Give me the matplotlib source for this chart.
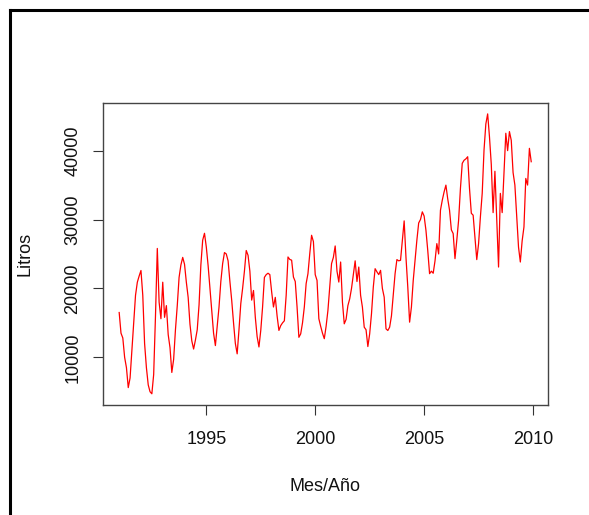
import numpy as np
import matplotlib.pyplot as plt
from matplotlib.lines import Line2D

plt.rcParams['font.family'] = ['Liberation Sans', 'DejaVu Sans']

# Serie mensual (litros), enero 1991 - diciembre 2009, un año por fila
inicio = 1991
litros = [
    16500, 13500, 12800, 10000,  8500,  5600,  7000, 11000, 15000, 19000, 20900, 21800,  # 1991
    22600, 19000, 12000,  8500,  6000,  5000,  4700,  7500, 16000, 25800, 18000, 15600,  # 1992
    20900, 15800, 17500, 13300, 11400,  7800,  9700, 14000, 17500, 21600, 23400, 24500,  # 1993
    23500, 20900, 18700, 14800, 12400, 11200, 12500, 14000, 17600, 23400, 27000, 28000,  # 1994
    26000, 23300, 20000, 16800, 13500, 11700, 14500, 17300, 21000, 23600, 25200, 25000,  # 1995
    24000, 21000, 18250, 15000, 12000, 10500, 14000, 17800, 20000, 22500, 25500, 24800,  # 1996
    22500, 18300, 19700, 15800, 13000, 11500, 13900, 17300, 21600, 22000, 22200, 22000,  # 1997
    19500, 17300, 18700, 16000, 13900, 14600, 15000, 15300, 19000, 24560, 24200, 24100,  # 1998
    21650, 21000, 17300, 12900, 13400, 15000, 17300, 20700, 22140, 25050, 27710, 26800,  # 1999
    22000, 21160, 15600, 14500, 13500, 12700, 14500, 16800, 20200, 23600, 24500, 26160,  # 2000
    22500, 20920, 23830, 18000, 14860, 15500, 17500, 18490, 20000, 22000, 24000, 21000,  # 2001
    23100, 19000, 17280, 14370, 14000, 11560, 13400, 16310, 20200, 22860, 22400, 22000,  # 2002
    22620, 20000, 18730, 14130, 13890, 14370, 16000, 19000, 22140, 24180, 24000, 24080,  # 2003
    27000, 29800, 24500, 20190, 15100, 17300, 21160, 24000, 26990, 29500, 30000, 31110,  # 2004
    30500, 28440, 25500, 22140, 22500, 22200, 24000, 26500, 25000, 31350, 32800, 34000,  # 2005
    34990, 33000, 31350, 28500, 27960, 24320, 27000, 29900, 34500, 38150, 38600, 38800,  # 2006
    39110, 34510, 30900, 30630, 27500, 24180, 26500, 30380, 33800, 40090, 43870, 45330,  # 2007
    42000, 38000, 31000, 37000, 30000, 23100, 33790, 31000, 36820, 42520, 40000, 42760,  # 2008
    41500, 36820, 35000, 30380, 26000, 23830, 26900, 28920, 35960, 35000, 40330, 38390,  # 2009
]
x_ticks = [1995, 2000, 2005, 2010]
y_ticks = [10000, 20000, 30000, 40000]

tiempo = inicio + np.arange(len(litros)) / 12

fig = plt.figure(figsize=(5.89, 5.15), dpi=100)
ax = fig.add_axes([102.7/589, 1 - 405/515, 445/589, 302.3/515])

ax.plot(tiempo, litros, color='red', lw=0.9)
ax.margins(x=0.04, y=0.04)

ax.set_xticks(x_ticks)
ax.set_yticks(y_ticks)
ax.set_yticklabels([str(v) for v in y_ticks], rotation=90, va='center')
ax.tick_params(direction='out', length=7.5, width=0.8, color='#333333',
               labelsize=13, labelcolor='#111111')
ax.tick_params(axis='x', pad=11)
ax.tick_params(axis='y', pad=8)
for s in ax.spines.values():
    s.set_color('#444444')
    s.set_linewidth(1.0)

ax.set_xlabel('Mes/Año', fontsize=13, color='#111111')
ax.set_ylabel('Litros', fontsize=13, color='#111111')
ax.xaxis.set_label_coords(0.5, -0.24)
ax.yaxis.set_label_coords(-0.155, 0.5)

# marco negro de la ventana (solo lados izquierdo y superior visibles)
fig.add_artist(Line2D([10/589, 10/589], [0, 1 - 10/515], transform=fig.transFigure,
                      color='black', lw=2.2))
fig.add_artist(Line2D([10/589, 1], [1 - 10/515, 1 - 10/515], transform=fig.transFigure,
                      color='black', lw=2.2))

fig.savefig('out.png', dpi=100)
